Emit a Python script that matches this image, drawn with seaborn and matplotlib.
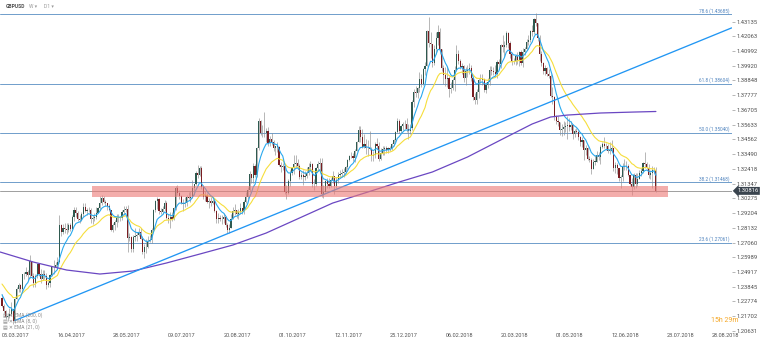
import numpy as np
import pandas as pd
import matplotlib
matplotlib.use("Agg")
import matplotlib.pyplot as plt
import matplotlib.transforms as mtrans
from matplotlib.patches import Rectangle
import seaborn as sns

# ---------------- data (GBPUSD, D1) ----------------
first_open = 1.2300

close = [
    # Mar 2017
    1.2245, 1.2205, 1.2165, 1.2170, 1.2185, 1.2220, 1.2135, 1.2295, 1.2365, 1.2395,
    1.2370, 1.2475, 1.2475, 1.2490, 1.2470, 1.2570, 1.2465, 1.2415, 1.2460, 1.2550,
    # Apr 2017
    1.2475, 1.2440, 1.2480, 1.2465, 1.2400, 1.2410, 1.2470, 1.2525, 1.2530, 1.2540,
    1.2565, 1.2835, 1.2780, 1.2810, 1.2805, 1.2795, 1.2835, 1.2805, 1.2890, 1.2945,
    # May 2017
    1.2920, 1.2875, 1.2870, 1.2910, 1.2965, 1.2935, 1.2940, 1.2945, 1.2880, 1.2885,
    1.2895, 1.2920, 1.2955, 1.2995, 1.3030, 1.3000, 1.2990, 1.2970, 1.2945, 1.2800,
    1.2830, 1.2855, 1.2885,
    # Jun 2017
    1.2885, 1.2885, 1.2925, 1.2945, 1.2950, 1.2740, 1.2745, 1.2660, 1.2745, 1.2750,
    1.2760, 1.2785, 1.2735, 1.2635, 1.2670, 1.2675, 1.2720, 1.2725, 1.2795, 1.2940,
    1.3005, 1.3025,
    # Jul 2017
    1.2935, 1.2930, 1.2950, 1.2995, 1.2885, 1.2880, 1.2890, 1.2880, 1.2955, 1.3100,
    1.3065, 1.3045, 1.2990, 1.2985, 1.2995, 1.3035, 1.3030, 1.3035, 1.3100, 1.3130,
    1.3210,
    # Aug 2017
    1.3200, 1.3245, 1.3110, 1.3040, 1.3050, 1.3000, 1.3005, 1.2995, 1.3010, 1.2935,
    1.2880, 1.2885, 1.2875, 1.2875, 1.2890, 1.2835, 1.2795, 1.2810, 1.2880, 1.2935,
    1.2940, 1.2910, 1.2925,
    # Sep 2017
    1.2955, 1.2935, 1.3000, 1.3040, 1.3085, 1.3205, 1.3175, 1.3260, 1.3195, 1.3395,
    1.3590, 1.3505, 1.3500, 1.3505, 1.3515, 1.3430, 1.3460, 1.3440, 1.3395, 1.3405,
    1.3400,
    # Oct 2017
    1.3270, 1.3255, 1.3265, 1.3075, 1.3065, 1.3150, 1.3210, 1.3245, 1.3280, 1.3285,
    1.3265, 1.3180, 1.3195, 1.3185, 1.3190, 1.3210, 1.3255, 1.3275, 1.3135, 1.3130,
    1.3245, 1.3280,
    # Nov 2017
    1.3285, 1.3060, 1.3075, 1.3150, 1.3135, 1.3115, 1.3160, 1.3190, 1.3120, 1.3160,
    1.3195, 1.3205, 1.3210, 1.3220, 1.3255, 1.3305, 1.3335, 1.3335, 1.3320, 1.3375,
    1.3440, 1.3525,
    # Dec 2017
    1.3475, 1.3400, 1.3425, 1.3395, 1.3390, 1.3385, 1.3335, 1.3345, 1.3420, 1.3410,
    1.3315, 1.3360, 1.3385, 1.3390, 1.3380, 1.3390, 1.3385, 1.3420, 1.3450, 1.3510,
    # Jan 2018
    1.3590, 1.3520, 1.3555, 1.3565, 1.3570, 1.3530, 1.3520, 1.3540, 1.3725, 1.3800,
    1.3795, 1.3830, 1.3895, 1.3860, 1.3965, 1.3990, 1.4245, 1.4160, 1.4150, 1.4015,
    1.4110, 1.4190,
    # Feb 2018
    1.4235, 1.4110, 1.3975, 1.3925, 1.3895, 1.3905, 1.3825, 1.3830, 1.3885, 1.3960,
    1.4075, 1.4025, 1.3980, 1.3990, 1.3905, 1.3955, 1.3960, 1.3975, 1.3905, 1.3765,
    # Mar 2018
    1.3740, 1.3800, 1.3890, 1.3890, 1.3895, 1.3815, 1.3850, 1.3875, 1.3960, 1.3955,
    1.3945, 1.3935, 1.4020, 1.4005, 1.4140, 1.4125, 1.4145, 1.4230, 1.4160, 1.4080,
    1.4025, 1.4025,
    # Apr 2018
    1.4065, 1.4030, 1.4090, 1.4010, 1.4090, 1.4115, 1.4165, 1.4180, 1.4245, 1.4235,
    1.4330, 1.4300, 1.4190, 1.4080, 1.4010, 1.3955, 1.3975, 1.3930, 1.3915, 1.3775,
    1.3765,
    # May 2018
    1.3620, 1.3590, 1.3580, 1.3525, 1.3535, 1.3545, 1.3550, 1.3560, 1.3545, 1.3560,
    1.3495, 1.3515, 1.3510, 1.3470, 1.3435, 1.3455, 1.3380, 1.3395, 1.3315, 1.3305,
    1.3240, 1.3295, 1.3295,
    # Jun 2018
    1.3340, 1.3325, 1.3400, 1.3420, 1.3410, 1.3410, 1.3375, 1.3375, 1.3390, 1.3245,
    1.3270, 1.3245, 1.3175, 1.3180, 1.3255, 1.3265, 1.3265, 1.3195, 1.3135, 1.3110,
    1.3200,
    # Jul 2018
    1.3130, 1.3170, 1.3215, 1.3225, 1.3285, 1.3275, 1.3250, 1.3195, 1.3210, 1.3235,
    1.3235, 1.3082,
]

high = [
    1.2330, 1.2260, 1.2215, 1.2195, 1.2230, 1.2270, 1.2225, 1.2305, 1.2380, 1.2410,
    1.2405, 1.2480, 1.2490, 1.2525, 1.2505, 1.2615, 1.2570, 1.2485, 1.2475, 1.2555,
    1.2555, 1.2515, 1.2505, 1.2505, 1.2485, 1.2425, 1.2480, 1.2535, 1.2580, 1.2565,
    1.2600, 1.2905, 1.2840, 1.2840, 1.2845, 1.2850, 1.2850, 1.2850, 1.2905, 1.2965,
    1.2965, 1.2935, 1.2905, 1.2925, 1.2990, 1.2990, 1.2955, 1.2965, 1.2955, 1.2905,
    1.2920, 1.2965, 1.2965, 1.3045, 1.3050, 1.3045, 1.3015, 1.2995, 1.2985, 1.2945,
    1.2845, 1.2870, 1.2910,
    1.2910, 1.2900, 1.2945, 1.2975, 1.2975, 1.2980, 1.2775, 1.2755, 1.2760, 1.2810,
    1.2780, 1.2815, 1.2810, 1.2755, 1.2695, 1.2735, 1.2750, 1.2760, 1.2815, 1.2950,
    1.3015, 1.3035,
    1.3030, 1.2955, 1.2975, 1.3015, 1.3005, 1.2915, 1.2930, 1.2925, 1.2965, 1.3115,
    1.3125, 1.3085, 1.3050, 1.3020, 1.3035, 1.3050, 1.3070, 1.3080, 1.3160, 1.3135,
    1.3225,
    1.3270, 1.3265, 1.3265, 1.3125, 1.3080, 1.3065, 1.3030, 1.3035, 1.3025, 1.3020,
    1.2945, 1.2920, 1.2905, 1.2905, 1.2920, 1.2900, 1.2845, 1.2840, 1.2910, 1.2965,
    1.2985, 1.2945, 1.2950,
    1.2995, 1.2955, 1.3015, 1.3070, 1.3110, 1.3225, 1.3205, 1.3285, 1.3280, 1.3400,
    1.3615, 1.3600, 1.3560, 1.3655, 1.3540, 1.3545, 1.3480, 1.3500, 1.3455, 1.3410,
    1.3440,
    1.3410, 1.3295, 1.3285, 1.3270, 1.3125, 1.3165, 1.3230, 1.3250, 1.3340, 1.3340,
    1.3310, 1.3280, 1.3220, 1.3230, 1.3225, 1.3255, 1.3285, 1.3300, 1.3285, 1.3165,
    1.3255, 1.3300,
    1.3320, 1.3320, 1.3125, 1.3160, 1.3175, 1.3175, 1.3175, 1.3225, 1.3185, 1.3180,
    1.3220, 1.3230, 1.3240, 1.3245, 1.3265, 1.3315, 1.3340, 1.3365, 1.3355, 1.3385,
    1.3445, 1.3550,
    1.3550, 1.3535, 1.3495, 1.3460, 1.3455, 1.3520, 1.3400, 1.3375, 1.3440, 1.3465,
    1.3435, 1.3390, 1.3410, 1.3405, 1.3405, 1.3400, 1.3410, 1.3430, 1.3460, 1.3515,
    1.3610, 1.3605, 1.3560, 1.3580, 1.3595, 1.3615, 1.3570, 1.3570, 1.3745, 1.3820,
    1.3845, 1.3835, 1.3945, 1.3935, 1.3975, 1.4020, 1.4250, 1.4345, 1.4240, 1.4145,
    1.4140, 1.4235,
    1.4285, 1.4265, 1.4115, 1.4000, 1.3980, 1.3990, 1.3915, 1.3875, 1.3905, 1.3990,
    1.4145, 1.4105, 1.4040, 1.4010, 1.3995, 1.3985, 1.3995, 1.4015, 1.4000, 1.3920,
    1.3795, 1.3820, 1.3905, 1.3935, 1.3935, 1.3905, 1.3870, 1.3905, 1.3990, 1.3990,
    1.3985, 1.3995, 1.4035, 1.4040, 1.4150, 1.4215, 1.4175, 1.4245, 1.4240, 1.4170,
    1.4090, 1.4045,
    1.4080, 1.4090, 1.4100, 1.4105, 1.4120, 1.4125, 1.4185, 1.4215, 1.4250, 1.4290,
    1.4340, 1.4375, 1.4305, 1.4215, 1.4100, 1.4020, 1.3995, 1.3985, 1.3965, 1.3930,
    1.3840,
    1.3775, 1.3630, 1.3625, 1.3580, 1.3565, 1.3590, 1.3585, 1.3625, 1.3615, 1.3590,
    1.3570, 1.3530, 1.3540, 1.3525, 1.3480, 1.3475, 1.3450, 1.3415, 1.3400, 1.3335,
    1.3320, 1.3310, 1.3345,
    1.3375, 1.3365, 1.3415, 1.3440, 1.3470, 1.3430, 1.3425, 1.3435, 1.3450, 1.3395,
    1.3290, 1.3285, 1.3250, 1.3195, 1.3285, 1.3315, 1.3300, 1.3280, 1.3200, 1.3175,
    1.3215,
    1.3215, 1.3215, 1.3230, 1.3245, 1.3295, 1.3365, 1.3290, 1.3275, 1.3230, 1.3260,
    1.3255, 1.3255,
]

low = [
    1.2235, 1.2195, 1.2150, 1.2135, 1.2160, 1.2175, 1.2110, 1.2120, 1.2295, 1.2345,
    1.2345, 1.2340, 1.2440, 1.2465, 1.2430, 1.2450, 1.2455, 1.2380, 1.2380, 1.2445,
    1.2465, 1.2410, 1.2430, 1.2440, 1.2365, 1.2385, 1.2380, 1.2465, 1.2480, 1.2525,
    1.2525, 1.2560, 1.2755, 1.2765, 1.2775, 1.2765, 1.2780, 1.2790, 1.2795, 1.2865,
    1.2890, 1.2860, 1.2845, 1.2860, 1.2895, 1.2925, 1.2905, 1.2930, 1.2845, 1.2840,
    1.2860, 1.2875, 1.2920, 1.2950, 1.2980, 1.2990, 1.2970, 1.2940, 1.2935, 1.2790,
    1.2780, 1.2800, 1.2820,
    1.2855, 1.2860, 1.2870, 1.2905, 1.2925, 1.2635, 1.2720, 1.2640, 1.2640, 1.2715,
    1.2720, 1.2755, 1.2730, 1.2625, 1.2590, 1.2630, 1.2665, 1.2710, 1.2700, 1.2780,
    1.2925, 1.2950,
    1.2915, 1.2910, 1.2910, 1.2935, 1.2875, 1.2850, 1.2810, 1.2860, 1.2870, 1.2945,
    1.3050, 1.3025, 1.2985, 1.2935, 1.2965, 1.2975, 1.3020, 1.3000, 1.3030, 1.3050,
    1.3125,
    1.3175, 1.3190, 1.3095, 1.3020, 1.3010, 1.2990, 1.2955, 1.2975, 1.2985, 1.2925,
    1.2845, 1.2850, 1.2860, 1.2840, 1.2850, 1.2820, 1.2775, 1.2775, 1.2810, 1.2880,
    1.2905, 1.2885, 1.2875,
    1.2915, 1.2910, 1.2915, 1.2995, 1.3020, 1.3075, 1.3140, 1.3140, 1.3185, 1.3185,
    1.3380, 1.3485, 1.3475, 1.3475, 1.3440, 1.3410, 1.3405, 1.3415, 1.3375, 1.3340,
    1.3365,
    1.3260, 1.3220, 1.3235, 1.3060, 1.3025, 1.3060, 1.3120, 1.3195, 1.3205, 1.3255,
    1.3240, 1.3165, 1.3165, 1.3125, 1.3160, 1.3175, 1.3195, 1.3225, 1.3110, 1.3090,
    1.3120, 1.3225,
    1.3230, 1.3040, 1.3030, 1.3070, 1.3105, 1.3100, 1.3110, 1.3140, 1.3060, 1.3105,
    1.3140, 1.3175, 1.3185, 1.3185, 1.3210, 1.3240, 1.3300, 1.3320, 1.3300, 1.3295,
    1.3370, 1.3435,
    1.3440, 1.3395, 1.3390, 1.3350, 1.3335, 1.3380, 1.3300, 1.3300, 1.3320, 1.3395,
    1.3300, 1.3305, 1.3340, 1.3345, 1.3360, 1.3355, 1.3370, 1.3380, 1.3410, 1.3440,
    1.3505, 1.3505, 1.3500, 1.3525, 1.3535, 1.3510, 1.3460, 1.3495, 1.3525, 1.3690,
    1.3765, 1.3755, 1.3800, 1.3835, 1.3850, 1.3925, 1.3990, 1.4125, 1.4045, 1.3980,
    1.4000, 1.4075,
    1.4140, 1.4080, 1.3950, 1.3860, 1.3845, 1.3840, 1.3765, 1.3790, 1.3815, 1.3805,
    1.3955, 1.4005, 1.3965, 1.3935, 1.3870, 1.3855, 1.3910, 1.3930, 1.3880, 1.3740,
    1.3710, 1.3715, 1.3755, 1.3865, 1.3855, 1.3800, 1.3795, 1.3830, 1.3855, 1.3925,
    1.3925, 1.3920, 1.3905, 1.3965, 1.3975, 1.4095, 1.4055, 1.4130, 1.4120, 1.4045,
    1.4000, 1.4005,
    1.4000, 1.4005, 1.3990, 1.3995, 1.3985, 1.4070, 1.4105, 1.4145, 1.4165, 1.4210,
    1.4220, 1.4280, 1.4170, 1.4025, 1.3990, 1.3930, 1.3925, 1.3920, 1.3905, 1.3765,
    1.3710,
    1.3600, 1.3565, 1.3555, 1.3485, 1.3480, 1.3490, 1.3510, 1.3460, 1.3515, 1.3525,
    1.3460, 1.3470, 1.3500, 1.3450, 1.3410, 1.3400, 1.3305, 1.3345, 1.3305, 1.3290,
    1.3205, 1.3240, 1.3270,
    1.3290, 1.3305, 1.3275, 1.3395, 1.3390, 1.3380, 1.3360, 1.3350, 1.3365, 1.3225,
    1.3210, 1.3205, 1.3155, 1.3105, 1.3150, 1.3230, 1.3230, 1.3190, 1.3125, 1.3050,
    1.3095,
    1.3105, 1.3120, 1.3165, 1.3190, 1.3215, 1.3245, 1.3240, 1.3175, 1.3165, 1.3100,
    1.3205, 1.3075,
]

ema8_seed = 1.2350
ema21_seed = 1.2420

# EMA(200) line (bar index, price)
ema200_bars = [-1, 17, 35, 53, 71, 89, 107, 125, 143, 161, 179, 198, 215, 233,
               252, 270, 287, 297, 306, 324, 342, 354]
ema200_vals = [1.2637, 1.2564, 1.2506, 1.2477, 1.2499, 1.2557, 1.2622, 1.2688,
               1.2775, 1.2884, 1.2993, 1.3073, 1.3146, 1.3219, 1.3328, 1.3452,
               1.3568, 1.3619, 1.3633, 1.3648, 1.3655, 1.3659]

fib_levels = [1.43685, 1.38604, 1.35040, 1.31468, 1.27061]
fib_labels = ["78.6 (1.43685)", "61.8 (1.38604)", "50.0 (1.35040)",
              "38.2 (1.31468)", "23.6 (1.27061)"]

support_low, support_high = 1.30394, 1.31194
support_start, support_end = 48.7, 360.6

trend_bars = [7, 395]
trend_prices = [1.2139, 1.4267]

current_price = 1.30816

price_ticks = [1.43135, 1.42063, 1.40992, 1.39920, 1.38848, 1.37777, 1.36705,
               1.35633, 1.34562, 1.33490, 1.32418, 1.31347, 1.30275, 1.29204,
               1.28132, 1.27060, 1.25989, 1.24917, 1.23845, 1.22774, 1.21702,
               1.20631]

date_labels = ["05.03.2017", "16.04.2017", "28.05.2017", "09.07.2017",
               "20.08.2017", "01.10.2017", "12.11.2017", "25.12.2017",
               "06.02.2018", "20.03.2018", "01.05.2018", "12.06.2018",
               "23.07.2018", "28.08.2018"]
date_ticks = [30 * k for k in range(13)] + [384.4]

legend_lines = ["EMA (200, 0)", "EMA (8, 0)", "EMA (21, 0)"]

# ---------------- style ----------------
sns.set_theme(style="white")
plt.rcParams["font.family"] = ["Roboto", "DejaVu Sans"]

c = np.array(close)
h = np.array(high)
l = np.array(low)
n = len(c)
bars = np.arange(n)
o = np.r_[first_open, c[:-1]]
h = np.maximum(h, np.maximum(o, c))
l = np.minimum(l, np.minimum(o, c))


def ema(seed, span):
    return pd.Series(np.r_[seed, c]).ewm(span=span, adjust=False).mean().values[1:]


df = pd.DataFrame({"bar": bars, "ema8": ema(ema8_seed, 8), "ema21": ema(ema21_seed, 21)})
df200 = pd.DataFrame({"bar": ema200_bars, "ema200": ema200_vals})

W, H = 760, 343
fig = plt.figure(figsize=(W / 100, H / 100), dpi=100)
fig.patch.set_facecolor("white")
ax = fig.add_axes([0, 10 / H, 732 / W, 333 / H])
ax.set_xlim(-1.08, 395.2)
ax.set_ylim(1.20480, 1.44699)
for s in ax.spines.values():
    s.set_visible(False)
ax.set_facecolor("white")

tr_ay = mtrans.blended_transform_factory(ax.transAxes, ax.transData)
tr_xa = mtrans.blended_transform_factory(ax.transData, ax.transAxes)

# fibonacci levels
for lvl, lab in zip(fib_levels, fib_labels):
    ax.axhline(lvl, color="#6F9DCB", lw=0.7, zorder=1)
    ax.text(0.996, lvl + 0.0003, lab, transform=tr_ay, ha="right", va="bottom",
            fontsize=3.4, color="#4F83BE", zorder=7)

# current price line
ax.axhline(current_price, color="#9E9E9E", lw=0.7, zorder=1)

# candles
up = c >= o
body = np.maximum(np.abs(c - o), 0.00012)
ax.vlines(bars, l, h, color="#8E8E8E", lw=0.45, zorder=2)
ax.bar(bars[up], body[up], bottom=np.minimum(o, c)[up], width=0.62,
       color="#2F5A50", linewidth=0, zorder=3)
ax.bar(bars[~up], body[~up], bottom=np.minimum(o, c)[~up], width=0.62,
       color="#7A1E22", linewidth=0, zorder=3)

# moving averages
sns.lineplot(data=df, x="bar", y="ema21", color="#F6DE3C", lw=0.8, ax=ax, zorder=4)
sns.lineplot(data=df, x="bar", y="ema8", color="#2AA9EE", lw=0.8, ax=ax, zorder=4)
sns.lineplot(data=df200, x="bar", y="ema200", color="#6A47C2", lw=0.9, ax=ax, zorder=4)

# trend line
ax.plot(trend_bars, trend_prices, color="#2196F3", lw=0.95, zorder=5)

# support zone
ax.add_patch(Rectangle((support_start, support_low), support_end - support_start,
                       support_high - support_low, facecolor="#EC7B78", alpha=0.62,
                       edgecolor="none", zorder=6))

# axes ticks
ax.set_xlabel("")
ax.set_ylabel("")
ax.set_xticks([])
ax.yaxis.tick_right()
ax.set_yticks(price_ticks)
ax.set_yticklabels([f"{v:.5f}" for v in price_ticks])
ax.tick_params(axis="y", right=True, left=False, length=2, width=0.5, colors="#9A9A9A",
               labelsize=4.2, labelcolor="#505050", pad=1.5)
ax.set_ylim(1.20480, 1.44699)

for b, lab in zip(date_ticks, date_labels):
    ax.text(b, -0.009, lab, transform=tr_xa, ha="left", va="center", fontsize=4.0,
            color="#505050", clip_on=False)

# current price tag
ax.text(1.007, current_price, f"{current_price:.5f}", transform=tr_ay, ha="left",
        va="center", fontsize=4.2, color="white", clip_on=False, zorder=10,
        bbox=dict(boxstyle="larrow,pad=0.25", fc="#3A444E", ec="none"))

# header
fig.text(6 / W, 1 - 7 / H, "GBPUSD", fontsize=3.6, color="#505050", weight="bold", va="center")
fig.text(29 / W, 1 - 7 / H, "W \u25be", fontsize=3.6, color="#9A9A9A", va="center")
fig.text(44 / W, 1 - 7 / H, "D1 \u25be", fontsize=3.6, color="#9A9A9A", va="center")

# indicator legend
for i, txt in enumerate(legend_lines):
    fig.text(3 / W, 1 - (315 + 6 * i) / H, "\u25a4 \u2715 " + txt, fontsize=3.5,
             color="#8A8A8A", va="center")

# countdown
fig.text(711 / W, 1 - 320 / H, "15h 29m", fontsize=5.0, color="#F5A623", va="center")

fig.savefig("out.png", dpi=100, facecolor="white")
